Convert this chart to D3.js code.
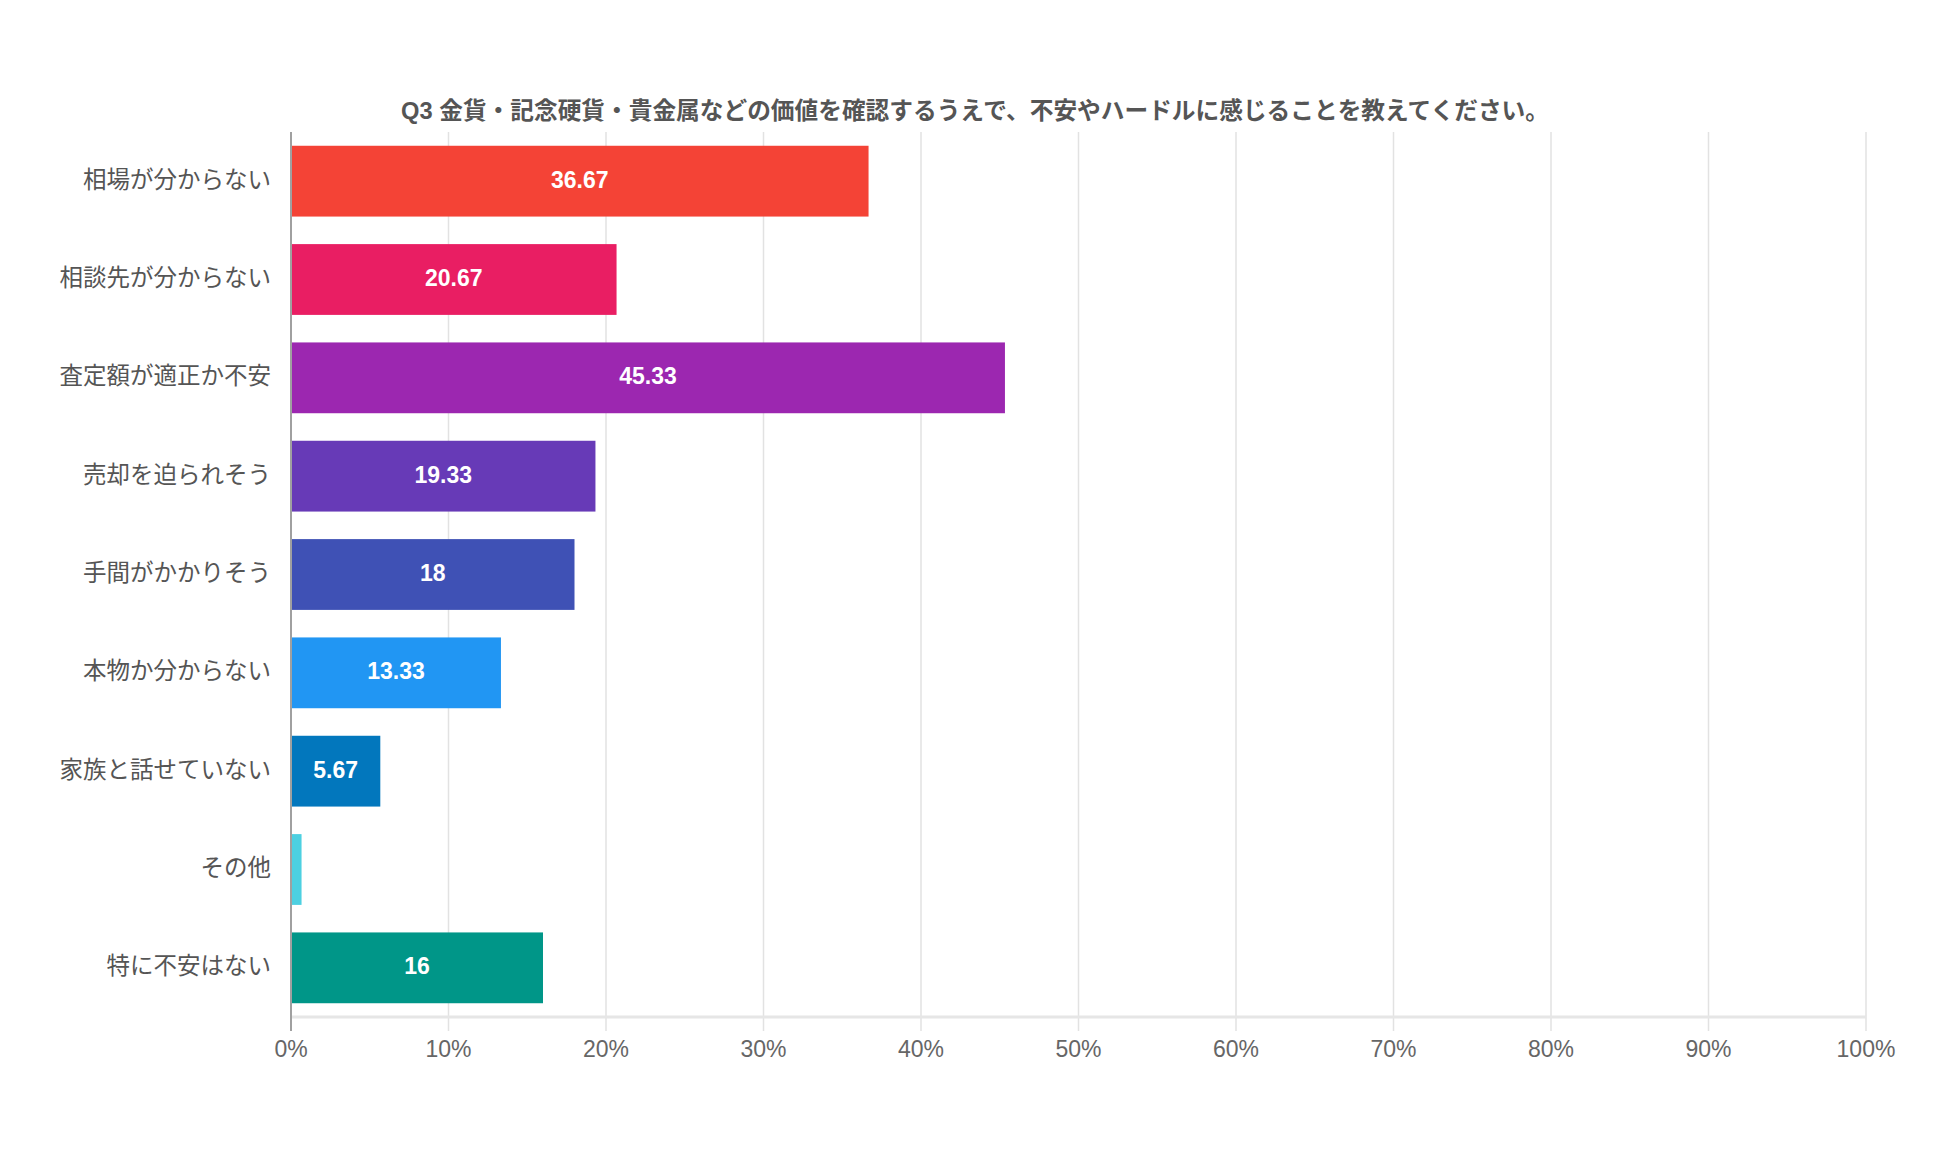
<!DOCTYPE html>
<meta charset="utf-8">
<script src="https://cdn.jsdelivr.net/npm/d3@7"></script>
<style>
    body { margin: 0; background: #fff; }
    svg { display: block; font-family: "Liberation Sans", Arial, "Noto Sans CJK JP", sans-serif; }
</style>
<div id="chart"></div>
<script>
    var title = "Q3 金貨・記念硬貨・貴金属などの価値を確認するうえで、不安やハードルに感じることを教えてください。";
    var categories = ["相場が分からない", "相談先が分からない", "査定額が適正か不安", "売却を迫られそう",
        "手間がかかりそう", "本物か分からない", "家族と話せていない", "その他", "特に不安はない"];
    var values = [36.67, 20.67, 45.33, 19.33, 18, 13.33, 5.67, 0.67, 16];
    var valueLabels = ["36.67", "20.67", "45.33", "19.33", "18", "13.33", "5.67", "", "16"];
    var colors = ["#F44336", "#E91E63", "#9C27B0", "#673AB7", "#3F51B5", "#2196F3", "#0277BD", "#4DD0E1", "#009688"];
    var ticks = [0, 10, 20, 30, 40, 50, 60, 70, 80, 90, 100];

    var W = 1950, H = 1168,
        plotLeft = 291, plotRight = 1866, plotTop = 132, plotBottom = 1017;

    var svg = d3.select("#chart").append("svg").attr("width", W).attr("height", H);

    var x = d3.scaleLinear().domain([0, 100]).range([plotLeft, plotRight]);
    var y = d3.scaleBand().domain(categories).range([plotTop, plotBottom])
        .paddingInner(0.28).paddingOuter(0.14);

    // grid
    svg.append("g").selectAll("line").data(ticks.slice(1)).join("line")
        .attr("x1", function(d) { return x(d); }).attr("x2", function(d) { return x(d); })
        .attr("y1", plotTop).attr("y2", plotBottom + 14)
        .attr("stroke", "#e2e2e2").attr("stroke-width", 1.5);

    // bottom axis line
    svg.append("line").attr("x1", plotLeft).attr("x2", plotRight).attr("y1", plotBottom).attr("y2", plotBottom)
        .attr("stroke", "#e6e6e6").attr("stroke-width", 3);

    // bars
    svg.append("g").selectAll("rect").data(values).join("rect")
        .attr("x", x(0))
        .attr("y", function(d, i) { return y(categories[i]); })
        .attr("width", function(d) { return x(d) - x(0); })
        .attr("height", y.bandwidth())
        .attr("fill", function(d, i) { return colors[i]; });

    // left axis line
    svg.append("line").attr("x1", plotLeft).attr("x2", plotLeft).attr("y1", plotTop).attr("y2", plotBottom + 14)
        .attr("stroke", "#a0a0a0").attr("stroke-width", 2);

    // value labels
    svg.append("g").selectAll("text").data(values).join("text")
        .attr("x", function(d) { return (x(0) + x(d)) / 2; })
        .attr("y", function(d, i) { return y(categories[i]) + y.bandwidth() / 2; })
        .attr("dy", "0.28em")
        .attr("text-anchor", "middle")
        .attr("fill", "#fff").attr("font-weight", "bold").attr("font-size", 23)
        .text(function(d, i) { return valueLabels[i]; });

    // category labels
    svg.append("g").selectAll("text").data(categories).join("text")
        .attr("x", plotLeft - 20)
        .attr("y", function(d) { return y(d) + y.bandwidth() / 2; })
        .attr("dy", "0.28em")
        .attr("text-anchor", "end")
        .attr("fill", "#555").attr("font-size", 23.5)
        .text(function(d) { return d; });

    // tick labels
    svg.append("g").selectAll("text").data(ticks).join("text")
        .attr("x", function(d) { return x(d); })
        .attr("y", 1049)
        .attr("dy", "0.36em")
        .attr("text-anchor", "middle")
        .attr("fill", "#666").attr("font-size", 23)
        .text(function(d) { return d + "%"; });

    // title
    svg.append("text").attr("x", 975).attr("y", 110).attr("dy", "0.36em")
        .attr("text-anchor", "middle")
        .attr("fill", "#555").attr("font-weight", "bold").attr("font-size", 23.7)
        .text(title);
</script>
